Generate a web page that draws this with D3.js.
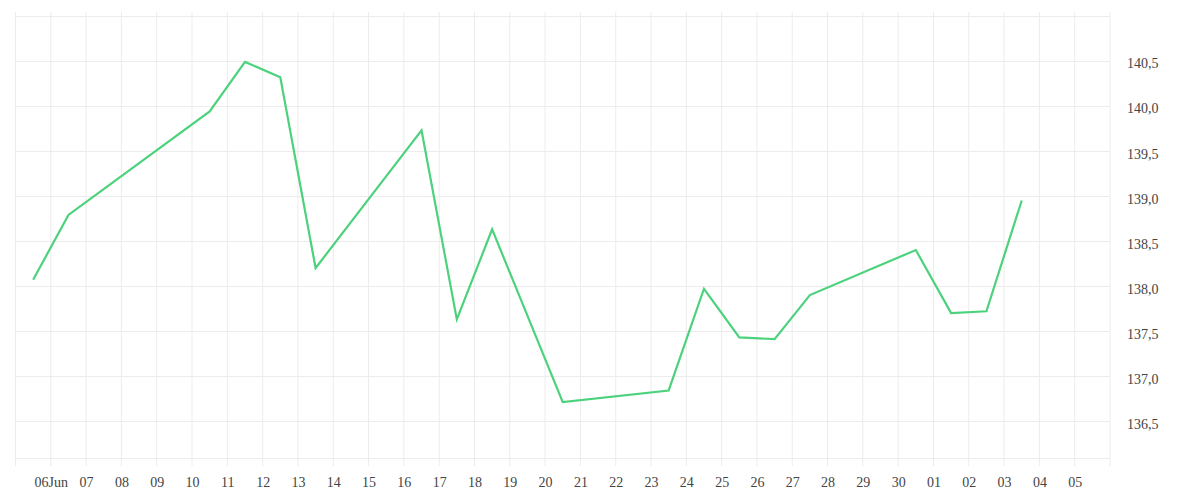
<!DOCTYPE html>
<html>
<head>
<meta charset="utf-8">
<script src="https://cdn.jsdelivr.net/npm/d3@7"></script>
<style>
  body { margin: 0; background: #fff; }
  svg text { font-family: "Liberation Serif", serif; font-size: 14px; fill: #444; }
</style>
</head>
<body>
<div id="chart"></div>
<script>
// daily closes, stamped at midday
const dates = [
  "2024-06-05T12:00", "2024-06-06T12:00", "2024-06-10T12:00", "2024-06-11T12:00",
  "2024-06-12T12:00", "2024-06-13T12:00", "2024-06-16T12:00", "2024-06-17T12:00",
  "2024-06-18T12:00", "2024-06-20T12:00", "2024-06-23T12:00", "2024-06-24T12:00",
  "2024-06-25T12:00", "2024-06-26T12:00", "2024-06-27T12:00", "2024-06-30T12:00",
  "2024-07-01T12:00", "2024-07-02T12:00", "2024-07-03T12:00"
];
const closes = [
  138.07, 138.79, 139.94, 140.49, 140.32, 138.20, 139.73, 137.63,
  138.63, 136.71, 136.84, 137.97, 137.43, 137.41, 137.90, 138.40,
  137.70, 137.72, 138.95
];
const xDomain = ["2024-06-05T00:00", "2024-07-06T00:00"];
const yDomain = [136.09, 141.044];
const yGridTicks = [136.5, 137, 137.5, 138, 138.5, 139, 139.5, 140, 140.5, 141];
const yLabelTicks = [136.5, 137, 137.5, 138, 138.5, 139, 139.5, 140, 140.5];

const w = 1200;
const h = 500;
const m = { left: 15.5, right: 1110, top: 12, bottom: 458 };

const parse = d3.utcParse("%Y-%m-%dT%H:%M");
const data = dates.map((d, i) => ({ date: parse(d), value: closes[i] }));

const x = d3.scaleUtc().domain(xDomain.map(parse)).range([m.left, m.right]);
const y = d3.scaleLinear().domain(yDomain).range([m.bottom, m.top]);

const svg = d3.select("#chart").append("svg")
  .attr("width", w)
  .attr("height", h);

const days = d3.utcDay.range(x.domain()[0], d3.utcDay.offset(x.domain()[1], 1));

// vertical grid, running down past the bottom edge as tick marks
svg.append("g")
  .selectAll("line")
  .data(days)
  .enter()
  .append("line")
  .attr("x1", (d) => x(d))
  .attr("x2", (d) => x(d))
  .attr("y1", m.top)
  .attr("y2", m.bottom + 8)
  .attr("stroke", "#ececec")
  .attr("stroke-width", 1);

// horizontal grid
svg.append("g")
  .selectAll("line")
  .data(yGridTicks)
  .enter()
  .append("line")
  .attr("x1", m.left)
  .attr("x2", m.right)
  .attr("y1", (d) => Math.round(y(d)) + 0.5)
  .attr("y2", (d) => Math.round(y(d)) + 0.5)
  .attr("stroke", "#ececec")
  .attr("stroke-width", 1);

svg.append("line")
  .attr("x1", m.left)
  .attr("x2", m.right)
  .attr("y1", m.bottom + 0.5)
  .attr("y2", m.bottom + 0.5)
  .attr("stroke", "#ececec");

// x axis labels
const fmtFirst = d3.utcFormat("%d%b");
const fmtDay = d3.utcFormat("%d");
const labelDays = days.slice(1, -1);

const xAxis = d3.axisBottom(x)
  .tickValues(labelDays)
  .tickSize(0)
  .tickPadding(19)
  .tickFormat((d, i) => (i === 0 ? fmtFirst(d) : fmtDay(d)));

svg.append("g")
  .attr("transform", `translate(0,${m.bottom})`)
  .call(xAxis)
  .call((g) => g.select(".domain").remove())
  .call((g) => g.selectAll("text").attr("font-family", null).attr("font-size", null));

// y axis labels on the right, comma decimals
const locale = d3.formatLocale({ decimal: ",", thousands: ".", grouping: [3], currency: ["", ""] });
const yAxis = d3.axisRight(y)
  .tickValues(yLabelTicks)
  .tickSize(0)
  .tickPadding(17)
  .tickFormat(locale.format(".1f"));

svg.append("g")
  .attr("transform", `translate(${m.right},0)`)
  .call(yAxis)
  .call((g) => g.select(".domain").remove())
  .call((g) => g.selectAll("text").attr("dy", "0.5em").attr("font-family", null).attr("font-size", null));

// price line
const line = d3.line()
  .x((d) => x(d.date))
  .y((d) => y(d.value));

svg.append("path")
  .datum(data)
  .attr("fill", "none")
  .attr("stroke", "#4cd27c")
  .attr("stroke-width", 2.2)
  .attr("stroke-linejoin", "miter")
  .attr("d", line);
</script>
</body>
</html>
